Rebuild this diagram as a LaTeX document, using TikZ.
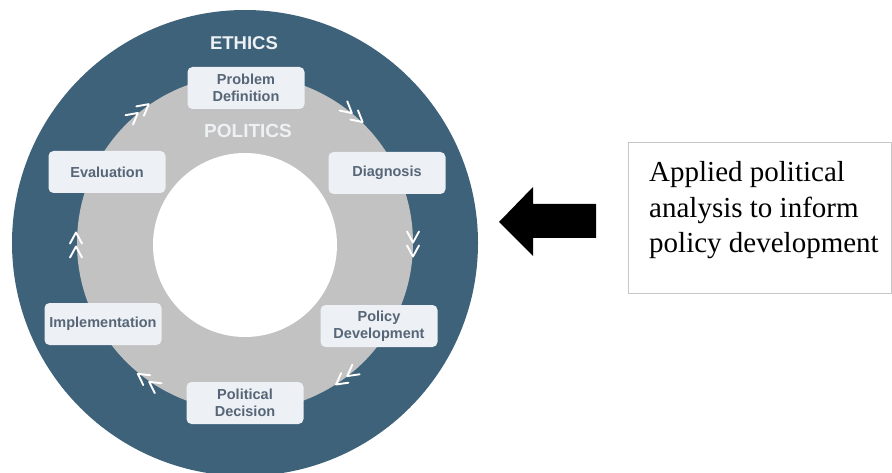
\documentclass[tikz,border=0pt]{standalone}
\usepackage{fontspec}
\setmainfont{Liberation Serif}
\newfontfamily\diagfont{Liberation Sans}
\definecolor{ringdark}{HTML}{3E6279}
\definecolor{ringgrey}{HTML}{C2C2C2}
\definecolor{boxfill}{HTML}{EDF0F4}
\definecolor{boxtext}{HTML}{566678}
\definecolor{ringtext}{HTML}{EEF1F4}
\definecolor{tboxline}{HTML}{C6C6C6}
\tikzset{
  stage/.style={fill=boxfill, rounded corners=5pt, minimum width=117pt, minimum height=42pt,
    inner sep=2pt, align=center, text=boxtext,
    font=\diagfont\bfseries\fontsize{14.5}{17}\selectfont},
  ringlabel/.style={text=ringtext, font=\diagfont\bfseries\fontsize{18.5}{20}\selectfont},
  chevline/.style={draw=white, line width=1.9pt, line cap=round, line join=round},
  chevs/.pic={
    \draw[chevline] (-12.5,-6) -- (-1.5,0) -- (-12.5,6);
    \draw[chevline] (1.5,-6) -- (12.5,0) -- (1.5,6);
  }
}
\begin{document}
\begin{tikzpicture}[x=1pt,y=-1pt]
\useasboundingbox (0,0) rectangle (892,473);
\fill[white] (0,0) rectangle (892,473);
% rings
\fill[ringdark] (245,243) circle[radius=233];
\fill[ringgrey] (245,243) circle[radius=168];
\fill[white] (245,245) circle[radius=92];
% ring labels
\node[ringlabel] (ethics) at (244,43) {ETHICS};
\node[ringlabel, font=\diagfont\bfseries\fontsize{19}{20}\selectfont] (politics) at (248,131) {POLITICS};
% stages
\node[stage] (probdef) at (246,88) {Problem\\Definition};
\node[stage] (diag) at (387,173) {Diagnosis};
\node[stage] (poldev) at (379,326) {Policy\\Development};
\node[stage] (poldec) at (245,403) {Political\\Decision};
\node[stage] (impl) at (103,324) {Implementation};
\node[stage] (eval) at (107,172) {Evaluation};
% chevrons on the ring boundary
\pic[rotate=-40] at (353,114) {chevs};
\pic[rotate=-90] at (413,244) {chevs};
\pic[rotate=-143] at (346,377) {chevs};
\pic[rotate=145] at (148,381) {chevs};
\pic[rotate=90] at (76,245) {chevs};
\pic[rotate=39] at (139,112) {chevs};
% block arrow
\fill[black] (499,222) -- (533,187) -- (533,204) -- (596,204) -- (596,238) -- (533,238) -- (533,256) -- cycle;
% text box
\node[draw=tboxline, line width=1.2pt, anchor=north west, minimum width=263pt, minimum height=151pt, inner sep=0pt] (tbox) at (628,142) {};
\node[anchor=base west, align=left, inner sep=0pt, font=\fontsize{29}{35.8}\selectfont] (tboxtext) at (649,253)
  {Applied political\\analysis to inform\\policy development};
\end{tikzpicture}
\end{document}
